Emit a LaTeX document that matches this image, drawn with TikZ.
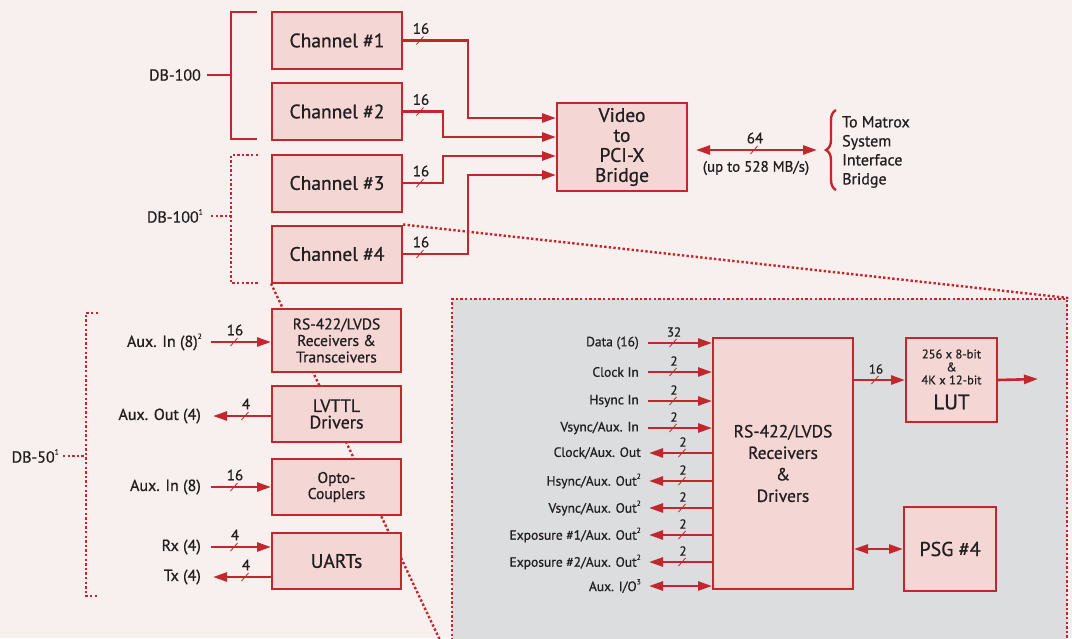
\documentclass[tikz,border=0pt]{standalone}
\usepackage{fontspec}
\setmainfont{PT Sans}[BoldFont=PT Sans,BoldFeatures={FakeBold=0.8}]
\usetikzlibrary{arrows.meta,calc,decorations.pathreplacing}
\definecolor{bg}{HTML}{F8F0EE}
\definecolor{rd}{HTML}{C1272D}
\definecolor{bx}{HTML}{F4D6D5}
\definecolor{pg}{HTML}{DCDDDF}
\definecolor{tx}{HTML}{231F20}
\newcommand{\mysup}[1]{\raisebox{0.5em}{\fontsize{7.5}{7.5}\selectfont #1}}
\tikzset{
 box/.style={draw=rd,fill=bx,line width=2pt,text=tx,align=center,inner sep=0pt},
 wire/.style={draw=rd,line width=2.6pt},
 arr/.style={wire,-{Triangle[length=14pt,width=9pt]}},
 darr/.style={wire,{Triangle[length=14pt,width=9pt]}-{Triangle[length=14pt,width=9pt]}},
 dots/.style={draw=rd,line width=2.4pt,dash pattern=on 2.4pt off 2.2pt},
 slash/.style={draw=rd,line width=0.8pt},
 num/.style={text=tx,font=\bfseries\fontsize{15}{15}\selectfont,inner sep=0pt},
 snum/.style={text=tx,font=\bfseries\fontsize{13}{13}\selectfont,inner sep=0pt},
 lab/.style={text=tx,font=\bfseries\fontsize{16}{16}\selectfont,inner sep=0pt},
 plab/.style={text=tx,font=\bfseries\fontsize{13.5}{13.5}\selectfont,inner sep=0pt},
 pics/bus/.style={code={\draw[slash] (-3.5,4) -- (3.5,-4); \node[num] at (1,-12) {#1};}},
 pics/sbus/.style={code={\draw[slash] (-3.5,4) -- (3.5,-4); \node[snum] at (1,-11) {#1};}},
}
\begin{document}
\begin{tikzpicture}[x=1pt,y=-1pt]
\useasboundingbox (0,0) rectangle (1072,638);
\clip (0,0) rectangle (1072,638);
\fill[bg] (0,0) rectangle (1072,638);

% grey detail panel
\node[dots,fill=pg,minimum width=615,minimum height=363,anchor=north west,inner sep=0pt] (panel) at (451,298) {};

% channel boxes
\begin{scope}[every node/.style={box,minimum width=130,minimum height=57,font=\bfseries\fontsize{19.5}{20}\selectfont}]
\node (ch1) at (337,40.5) {Channel \#1};
\node (ch2) at (337,111.5) {Channel \#2};
\node (ch3) at (337,183) {Channel \#3};
\node (ch4) at (337,254) {Channel \#4};
\end{scope}

% zoom lines
\draw[dots] (ch4.north east) -- (panel.north east);
\draw[dots] (ch4.south west) -- (panel.south west);

% DB-100 brackets
\node[lab,anchor=east] (db1) at (201,75) {DB-100};
\coordinate (b1) at (231,75);
\draw[wire] (257,12) -- (231,12) -- (231,139) -- (257,139);
\draw[wire] (db1.east) ++(6,0) -- (b1);
\node[lab,anchor=east] (db2) at (203,216) {DB-100\mysup{1}};
\coordinate (b2) at (231,216);
\draw[dots] (258,155) -- (231,155) -- (231,283) -- (258,283);
\draw[dots] ($(db2.east)+(8,0)$) -- (b2);

% Video bridge
\node[box,minimum width=130,minimum height=88,font=\bfseries\fontsize{19.5}{20}\selectfont] (vid) at (622,147) {Video\\to\\PCI-X\\Bridge};
\coordinate (v1) at ($(vid.north west)+(0,16)$);
\coordinate (v2) at ($(vid.north west)+(0,35)$);
\coordinate (v3) at ($(vid.north west)+(0,54)$);
\coordinate (v4) at ($(vid.north west)+(0,73)$);
\draw[arr] (ch1.east) -| ($(v1)+(-88,0)$) -- (v1);
\draw[arr] (ch2.east) -| ($(v2)+(-113,0)$) -- (v2);
\draw[arr] (ch3.east) -| ($(v3)+(-113,0)$) -- (v3);
\draw[arr] (ch4.east) -| ($(v4)+(-88,0)$) -- (v4);
\pic at ($(ch1.east)+(17,0)$) {bus=16};
\pic at ($(ch2.east)+(17,0)$) {bus=16};
\pic at ($(ch3.east)+(17,0)$) {bus=16};
\pic at ($(ch4.east)+(17,0)$) {bus=16};

% to Matrox
\node[text=tx,font=\bfseries\fontsize{16}{19}\selectfont,align=left,anchor=west,inner sep=0pt] (mx) at (842,152) {To Matrox\\System\\Interface\\Bridge};
\draw[wire,line width=2.4pt,decorate,decoration={brace,amplitude=10pt}] (836,190) -- (836,110);
\draw[darr] ($(vid.east)+(8,3)$) -- ($(mx.west)+(-25,-2)$);
\pic at (754,150) {bus=64};
\node[lab,font=\bfseries\fontsize{15}{15}\selectfont] (rate) at (756,168) {(up to 528 MB/s)};

% left lower boxes
\node[box,minimum width=129,minimum height=63,font=\bfseries\fontsize{15.5}{16.5}\selectfont] (rsl) at (336.5,340.5) {RS-422/LVDS\\Receivers \&\\Transceivers};
\node[box,minimum width=129,minimum height=56,font=\bfseries\fontsize{18}{16.5}\selectfont] (lvt) at (336.5,414) {LVTTL\\Drivers};
\node[box,minimum width=129,minimum height=56,font=\bfseries\fontsize{15.5}{16}\selectfont] (opt) at (336.5,487) {Opto-\\Couplers};
\node[box,minimum width=129,minimum height=56,font=\bfseries\fontsize{19.5}{20}\selectfont] (uart) at (336.5,561) {UARTs};

\node[lab,anchor=east] (ai1) at (202,342) {Aux. In (8)\mysup{2}};
\node[lab,anchor=east] (ao) at (201,416) {Aux. Out (4)};
\node[lab,anchor=east] (ai2) at (201,487) {Aux. In (8)};
\node[lab,anchor=east] (rx) at (201,547) {Rx (4)};
\node[lab,anchor=east] (txl) at (201,577) {Tx (4)};
\draw[arr] ($(ai1.east)+(9,0)$) -- (rsl.west |- ai1.east);
\draw[arr] (lvt.west |- ao.east) -- ($(ao.east)+(12,0)$);
\draw[arr] ($(ai2.east)+(10,0)$) -- (opt.west |- ai2.east);
\draw[arr] ($(rx.east)+(10,0)$) -- (uart.west |- rx.east);
\draw[arr] (uart.west |- txl.east) -- ($(txl.east)+(12,0)$);
\pic at ($(ai1.east)+(32,0)$) {bus=16};
\pic at ($(ao.east)+(44,0)$) {bus=4};
\pic at ($(ai2.east)+(33,0)$) {bus=16};
\pic at ($(rx.east)+(33,0)$) {bus=4};
\pic at ($(txl.east)+(44,0)$) {bus=4};

% DB-50 bracket
\node[lab,anchor=east] (db3) at (59,456) {DB-50\mysup{1}};
\coordinate (b3) at (86,456);
\draw[dots] (98,313) -- (86,313) -- (86,596) -- (98,596);
\draw[dots] ($(db3.east)+(4,0)$) -- (b3);

% panel contents
\node[box,minimum width=140,minimum height=251,font=\bfseries\fontsize{17.5}{21.5}\selectfont] (rsp) at (783,463.5) {RS-422/LVDS\\Receivers\\\&\\Drivers};
\node[box,minimum width=91,minimum height=84] (lut) at (951.5,380) {};
\node[text=tx,font=\bfseries\fontsize{12.5}{13}\selectfont,align=center,inner sep=0pt] (lutt) at ($(lut.center)+(0,-13)$) {256 x 8-bit\\\&\\4K x 12-bit};
\node[text=tx,font=\bfseries\fontsize{21}{21}\selectfont,inner sep=0pt] (lutl) at ($(lut.center)+(0,22)$) {LUT};
\node[box,minimum width=92,minimum height=84,font=\bfseries\fontsize{20}{20}\selectfont] (psg) at (950,549) {PSG \#4};
\coordinate (lo) at (1038,379);
\draw[arr] (rsp.east |- lut.west) -- (lut.west);
\pic at ($(rsp.east |- lut.west)+(21,0)$) {sbus=16};
\draw[arr] (lut.east) -- (lo);
\draw[darr] (rsp.east |- psg.west) -- (psg.west);

\foreach \y/\t/\n in {343/{Data (16)}/32, 372/{Clock In}/2, 401/{Hsync In}/2, 428/{Vsync/Aux. In}/2}{
  \node[plab,anchor=east] (pin\y) at (639,\y) {\t};
  \draw[arr] ($(pin\y.east)+(9,0)$) -- (rsp.west |- pin\y.east);
  \pic at ($(pin\y.east)+(34,0)$) {sbus=\n};
}
\foreach \y/\t in {453/{Clock/Aux. Out}, 481/{Hsync/Aux. Out\mysup{2}}, 508/{Vsync/Aux. Out\mysup{2}}, 535/{Exposure \#1/Aux. Out\mysup{2}}, 562/{Exposure \#2/Aux. Out\mysup{2}}}{
  \node[plab,anchor=east] (pout\y) at (641,\y) {\t};
  \draw[arr] (rsp.west |- pout\y.east) -- ($(pout\y.east)+(8,0)$);
  \pic at ($(pout\y.east)+(41,0)$) {sbus=2};
}
\node[plab,anchor=east] (pio) at (641,586) {Aux. I/O\mysup{3}};
\draw[darr] ($(pio.east)+(8,0)$) -- (rsp.west |- pio.east);
\end{tikzpicture}
\end{document}
